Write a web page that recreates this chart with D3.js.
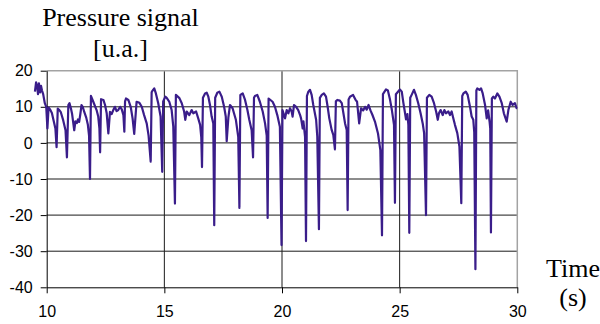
<!DOCTYPE html>
<html>
<head>
  <meta charset="utf-8" />
  <title>Pressure signal</title>
  <script type="text/javascript" src="https://cdn.jsdelivr.net/npm/d3@7"></script>
  <style>
    body{
      margin: 0;
      background: white;
    }
  </style>
</head>
<body>
  <script type="text/javascript">
    // - - - - - DATA - - - - - //
    var yTicks = [-40, -30, -20, -10, 0, 10, 20];
    var xTicks = [10, 15, 20, 25, 30];
    var yTitle = ["Pressure signal", "[u.a.]"];
    var xTitle = ["Time", "(s)"];
    //[time (s), pressure (u.a.)]
    var signal = [
      [9.50,14.2],[9.55,16.8],[9.60,15.5],[9.63,13.5],[9.67,16.5],[9.72,14.0],[9.76,15.8],[9.80,14.5],[9.85,13.5],[9.92,11.0],[9.98,10.0],
      [10.03,4.0],[10.08,9.8],[10.14,9.3],[10.22,8.3],[10.30,6.0],[10.37,4.0],[10.42,-1.2],[10.47,9.5],[10.52,9.2],[10.60,8.5],[10.70,6.3],[10.80,3.5],[10.86,-4.0],[10.92,10.5],[10.97,11.0],
      [11.03,9.5],[11.08,8.0],[11.13,5.5],[11.17,3.5],[11.22,6.0],[11.28,5.5],[11.33,6.5],[11.38,5.8],[11.43,8.0],[11.48,10.5],[11.53,10.0],[11.60,8.5],[11.68,7.0],[11.75,5.0],[11.80,2.0],[11.84,-10.0],
      [11.88,13.0],[11.98,11.4],[12.12,9.1],[12.19,7.3],[12.24,4.0],[12.27,-2.6],[12.31,12.1],[12.41,11.9],[12.48,10.5],[12.55,8.2],[12.62,2.6],[12.69,8.6],[12.76,8.0],[12.83,9.1],[12.90,10.0],[12.97,8.8],
      [13.04,9.1],[13.12,10.0],[13.19,9.3],[13.26,7.7],[13.30,3.1],[13.33,11.5],[13.37,12.3],[13.47,11.9],[13.57,10.0],[13.65,6.8],[13.72,2.5],[13.82,11.4],[13.94,11.1],
      [14.04,10.0],[14.14,7.7],[14.25,5.4],[14.33,2.0],[14.42,-5.2],[14.46,14.0],[14.50,14.5],[14.57,15.1],[14.64,13.7],[14.74,11.0],[14.84,7.3],[14.91,-8.0],
      [14.95,11.5],[15.04,12.8],[15.10,12.5],[15.21,11.4],[15.31,9.1],[15.38,4.5],[15.45,-16.8],[15.49,13.3],[15.64,12.4],[15.74,11.0],[15.84,8.7],[15.89,6.4],[15.95,8.7],
      [16.06,7.7],[16.16,9.1],[16.23,8.2],[16.35,8.7],[16.44,6.8],[16.52,5.0],[16.57,1.5],[16.60,-6.7],[16.64,12.5],[16.73,13.7],[16.80,13.9],[16.87,12.8],[16.94,10.5],
      [17.01,7.3],[17.08,5.4],[17.12,-22.8],[17.16,12.5],[17.25,13.9],[17.34,14.2],[17.44,12.8],[17.54,10.0],[17.61,7.3],[17.65,0.5],[17.72,7.0],[17.79,10.5],[17.90,9.6],[17.96,8.2],
      [18.04,6.4],[18.14,1.7],[18.19,-18.0],[18.23,13.3],[18.33,13.7],[18.43,11.9],[18.53,9.1],[18.61,6.4],[18.71,3.5],[18.77,-4.0],[18.81,12.5],[18.85,13.0],[18.95,13.3],
      [19.06,11.4],[19.18,8.7],[19.28,5.4],[19.35,2.0],[19.39,-20.8],[19.43,12.3],[19.60,11.4],[19.70,10.0],[19.80,7.7],[19.91,4.5],[19.98,-28.3],
      [20.02,9.1],[20.13,6.8],[20.20,9.1],[20.27,8.2],[20.34,9.6],[20.41,8.7],[20.45,7.3],[20.51,10.5],[20.60,10.0],[20.69,9.1],[20.77,7.7],[20.81,6.8],[20.88,4.0],[20.91,6.0],[20.98,1.7],
      [21.02,-27.2],[21.06,13.0],[21.12,14.2],[21.19,14.7],[21.26,13.3],[21.33,10.5],[21.45,6.4],[21.50,1.7],[21.57,-23.9],[21.61,12.5],[21.69,13.3],[21.78,13.7],[21.87,12.8],[21.94,10.0],
      [22.01,6.8],[22.11,3.6],[22.18,2.2],[22.25,-1.8],[22.29,11.5],[22.35,11.9],[22.46,11.7],[22.54,11.0],[22.61,8.2],[22.68,5.4],[22.75,3.6],[22.79,-18.6],[22.83,12.0],[22.89,12.8],
      [23.02,13.3],[23.12,12.0],[23.19,11.4],[23.28,5.4],[23.36,9.6],[23.45,9.0],[23.53,10.0],[23.60,9.2],[23.68,10.5],[23.76,9.0],[23.84,7.8],[23.95,5.9],
      [24.08,2.6],[24.18,-2.0],[24.25,-25.6],[24.29,13.5],[24.42,14.8],[24.50,14.5],[24.59,12.0],[24.67,9.1],[24.76,5.0],[24.80,-16.6],[24.84,13.5],
      [25.01,14.8],[25.09,14.2],[25.16,11.0],[25.23,8.2],[25.27,6.5],[25.33,8.0],[25.37,5.0],[25.41,-24.9],[25.45,12.5],[25.51,13.3],[25.61,14.7],[25.69,13.3],[25.79,11.0],[25.89,8.2],[25.98,5.4],
      [26.04,2.7],[26.12,-20.0],[26.16,12.5],[26.26,13.3],[26.36,12.8],[26.46,11.0],[26.55,8.7],[26.62,6.4],[26.67,8.2],[26.74,9.1],[26.83,7.7],[26.90,9.1],[26.97,8.2],
      [27.07,8.7],[27.14,7.7],[27.21,8.7],[27.28,6.8],[27.35,5.0],[27.45,2.7],[27.54,-1.0],[27.62,-16.7],[27.66,13.0],[27.71,13.7],[27.81,14.2],[27.89,13.3],[27.99,10.0],
      [28.06,7.3],[28.13,6.4],[28.17,3.0],[28.22,-35.0],[28.26,14.5],[28.30,15.1],[28.39,14.7],[28.46,15.1],[28.53,13.7],[28.63,10.5],[28.70,6.8],[28.76,9.0],[28.82,6.0],[28.85,4.0],[28.88,-24.8],
      [28.92,12.3],[28.98,12.8],[29.05,12.3],[29.15,13.7],[29.24,12.8],[29.34,11.0],[29.43,8.2],[29.55,5.9],[29.62,9.1],[29.72,11.4],[29.80,10.5],[29.90,11.0],[29.97,9.6],[30.00,9.6]
    ];

    // - - - - - CANVAS - - - - - //
    var w = 600;
    var h = 324;
    //plot area edges (px)
    var pLeft = 46.7, pRight = 517.3, pTop = 70.7, pBottom = 287.3;

    var svg = d3.select("body")
      .append("svg")
      .attr("width", w)
      .attr("height", h);

    // - - - - - SCALES - - - - - //
    var xScale = d3.scaleLinear().domain([10, 30]).range([pLeft, pRight]);
    var yScale = d3.scaleLinear().domain([-40, 20]).range([pBottom, pTop]);

    // - - - - - GRID - - - - - //
    svg.append("g")
      .selectAll("line")
      .data(yTicks.slice(1, -1))
      .enter()
      .append("line")
      .attr("x1", pLeft).attr("x2", pRight)
      .attr("y1", function(d){ return yScale(d); })
      .attr("y2", function(d){ return yScale(d); })
      .attr("stroke", "#1a1a1a")
      .attr("stroke-width", 1);

    svg.append("g")
      .selectAll("line")
      .data(xTicks.slice(1, -1))
      .enter()
      .append("line")
      .attr("y1", pTop).attr("y2", pBottom)
      .attr("x1", function(d){ return xScale(d); })
      .attr("x2", function(d){ return xScale(d); })
      .attr("stroke", "#1a1a1a")
      .attr("stroke-width", 1);

    //plot border (top & right) in gray
    svg.append("path")
      .attr("d", "M" + pLeft + "," + pTop + "H" + pRight + "V" + pBottom)
      .attr("fill", "none")
      .attr("stroke", "#a3a3a3")
      .attr("stroke-width", 1.5);

    // - - - - - AXES - - - - - //
    //plain hyphen for negatives, like the original
    var plain = function(d){ return String(d); };
    var yAxis = svg.append("g")
      .attr("transform", "translate(" + pLeft + ",0)")
      .call(d3.axisLeft(yScale).tickValues(yTicks).tickFormat(plain).tickSize(6).tickSizeOuter(0).tickPadding(8));
    var xAxis = svg.append("g")
      .attr("transform", "translate(0," + pBottom + ")")
      .call(d3.axisBottom(xScale).tickValues(xTicks).tickFormat(plain).tickSize(6).tickSizeOuter(0).tickPadding(12));

    [yAxis, xAxis].forEach(function(a){
      a.selectAll("path, line").attr("stroke", "#000").attr("stroke-width", 1);
      a.selectAll("text")
        .attr("fill", "#000")
        .style("font-family", "'Liberation Sans', Arial, sans-serif")
        .style("font-size", "16px");
    });

    // - - - - - SIGNAL - - - - - //
    var line = d3.line()
      .x(function(d){ return xScale(d[0]); })
      .y(function(d){ return yScale(d[1]); });

    svg.append("path")
      .datum(signal)
      .attr("d", line)
      .attr("fill", "none")
      .attr("stroke", "#3a1d8a")
      .attr("stroke-width", 2.2)
      .attr("stroke-linejoin", "round");

    // - - - - - TITLES - - - - - //
    var serif = "'Liberation Serif', 'Times New Roman', serif";
    svg.selectAll(".ytitle")
      .data(yTitle)
      .enter()
      .append("text")
      .attr("class", "ytitle")
      .attr("x", 120.5)
      .attr("y", function(d, i){ return i == 0 ? 26 : 57; })
      .attr("text-anchor", "middle")
      .style("font-family", serif)
      .style("font-size", "26px")
      .text(function(d){ return d; });

    svg.selectAll(".xtitle")
      .data(xTitle)
      .enter()
      .append("text")
      .attr("class", "xtitle")
      .attr("x", 573)
      .attr("y", function(d, i){ return i == 0 ? 277 : 306; })
      .attr("text-anchor", "middle")
      .style("font-family", serif)
      .style("font-size", "26px")
      .text(function(d){ return d; });
  </script>
</body>
</html>
